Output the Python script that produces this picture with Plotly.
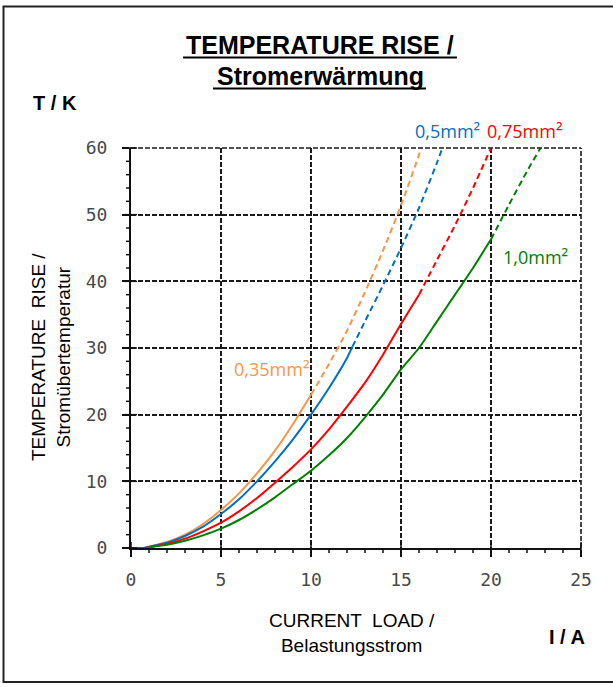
import plotly.graph_objects as go

# Temperature rise vs. current load for four conductor cross-sections.
# Each series: current (A) and temperature rise (K); points up to *_measured_to
# are measured (solid), the rest are extrapolated (dashed).
orange_i = [0, 0.7, 1, 2, 3, 4, 5, 6, 7, 8, 9, 10, 11, 12, 13, 14, 15, 16, 16.1]
orange_t = [0, 0, 0.2, 0.9, 2.0, 3.6, 5.7, 8.2, 11.2, 14.6, 18.6, 23.0, 27.6, 32.6, 38.4, 44.6, 51.4, 59.0, 60.0]
orange_measured_to = 10

blue_i = [0, 0.7, 1, 2, 3, 4, 5, 6, 7, 8, 9, 10, 11, 12, 12.3, 13, 14, 15, 16, 17, 17.3]
blue_t = [0, 0, 0.2, 0.8, 1.8, 3.2, 5.1, 7.3, 10.0, 13.0, 16.3, 20.0, 24.0, 28.5, 30.2, 34.0, 39.4, 45.0, 51.0, 57.8, 60.0]
blue_measured_to = 12.3

red_i = [0, 0.8, 1, 2, 3, 4, 5, 6, 7, 8, 9, 10, 11, 12, 13, 14, 15, 16, 17, 18, 19, 20]
red_t = [0, 0, 0.1, 0.6, 1.4, 2.5, 3.8, 5.5, 7.5, 9.8, 12.2, 14.8, 17.8, 21.2, 24.8, 29.0, 33.6, 38.0, 43.2, 48.4, 54.0, 60.0]
red_measured_to = 16

green_i = [0, 0.9, 1, 2, 3, 4, 5, 6, 7, 8, 9, 10, 11, 12, 13, 14, 15, 16, 17, 18, 19, 20, 21, 22, 22.75]
green_t = [0, 0, 0.1, 0.5, 1.1, 1.9, 2.9, 4.2, 5.8, 7.6, 9.6, 11.6, 13.9, 16.5, 19.6, 23.0, 26.8, 30.0, 34.0, 38.0, 42.0, 46.3, 51.5, 56.5, 60.0]
green_measured_to = 20

# name, current, temperature, end of measured part, colour, label position (px)
series = [
    ("0,35mm²", orange_i, orange_t, orange_measured_to, "#F79646", (271, 369)),
    ("0,5mm²", blue_i, blue_t, blue_measured_to, "#0070C0", (447, 131)),
    ("0,75mm²", red_i, red_t, red_measured_to, "#FF0000", (524, 131)),
    ("1,0mm²", green_i, green_t, green_measured_to, "#008000", (535, 257)),
]

x_ticks = [0, 5, 10, 15, 20, 25]
y_ticks = [0, 10, 20, 30, 40, 50, 60]
x_minor_step = 1
y_minor_step = 2

W, H = 613, 687
L, R, T, B = 131, 581, 148, 548
PW, PH = R - L, B - T


def px(x, y):
    """Pixel position on the page -> paper coordinates."""
    return (x - L) / PW, (B - y) / PH


def label_html(name):
    # draw the superscript-two a little larger than the plain glyph
    return name.replace("²", "<span style='font-size:19px'>²</span>")


fig = go.Figure()

for name, xi, yt, cut, color, (lx, ly) in series:
    solid = [(a, b) for a, b in zip(xi, yt) if a <= cut]
    dashed = [(a, b) for a, b in zip(xi, yt) if a >= cut]
    fig.add_trace(go.Scatter(
        x=[p[0] for p in solid], y=[p[1] for p in solid], mode="lines",
        line=dict(color=color, width=2, shape="spline", smoothing=0.6),
        showlegend=False, hoverinfo="skip"))
    fig.add_trace(go.Scatter(
        x=[p[0] for p in dashed], y=[p[1] for p in dashed], mode="lines",
        line=dict(color=color, width=2, dash="6px,4px", shape="spline", smoothing=0.6),
        showlegend=False, hoverinfo="skip"))
    xp, yp = px(lx, ly)
    fig.add_annotation(x=xp, y=yp, xref="paper", yref="paper", text=label_html(name),
                       showarrow=False, xanchor="center", yanchor="middle",
                       font=dict(family="Open Sans", size=18, color=color))

axis_style = dict(showgrid=True, gridcolor="#1a1a1a", gridwidth=1.6, griddash="5px,2px",
                  zeroline=False, showline=True, linecolor="#111", linewidth=2,
                  ticks="outside", ticklen=7, tickwidth=2, tickcolor="#111",
                  tickfont=dict(family="DejaVu Sans Mono", size=18, color="#4a4a4a"))

fig.update_layout(
    xaxis=dict(range=[x_ticks[0], x_ticks[-1]], tickmode="linear", tick0=x_ticks[0],
               dtick=x_ticks[1] - x_ticks[0], ticklabelstandoff=7, **axis_style),
    yaxis=dict(range=[y_ticks[0], y_ticks[-1]], tickmode="linear", tick0=y_ticks[0],
               dtick=y_ticks[1] - y_ticks[0], ticklabelstandoff=11, **axis_style),
)

anns = [
    ("TEMPERATURE RISE /", 320, 45, 25),
    ("Stromerwärmung", 320, 76, 25),
    ("T / K", 55, 103, 20),
    ("I / A", 567, 637, 20),
]
for text, x, y, size in anns:
    xp, yp = px(x, y)
    fig.add_annotation(x=xp, y=yp, xref="paper", yref="paper", text=f"<b>{text}</b>",
                       showarrow=False, font=dict(family="Liberation Sans", size=size, color="#000"),
                       xanchor="center", yanchor="middle")

xp, yp = px(352, 633)
fig.add_annotation(x=xp, y=yp, xref="paper", yref="paper",
                   text="CURRENT  LOAD /<br>Belastungsstrom", showarrow=False,
                   font=dict(family="Liberation Sans", size=19, color="#000"),
                   xanchor="center", yanchor="middle")
xp, yp = px(51, 357)
fig.add_annotation(x=xp, y=yp, xref="paper", yref="paper",
                   text="TEMPERATURE  RISE /<br>Stromübertemperatur", showarrow=False,
                   textangle=-90,
                   font=dict(family="Liberation Sans", size=19, color="#000"),
                   xanchor="center", yanchor="middle")

dash_line = dict(color="#1a1a1a", width=1.6, dash="5px,2px")
shapes = [
    # grid lines on the far edges of the plot area (paper refs are not clipped)
    dict(type="line", xref="paper", yref="paper", x0=0, x1=1, y0=1, y1=1,
         line=dash_line),
    dict(type="line", xref="paper", yref="paper", x0=1, x1=1, y0=0, y1=1,
         line=dash_line),
]

# ruler ticks along both axes: minor ticks outside, major ticks crossing the axis
tick_line = dict(color="#111", width=1.5)
x_span = x_ticks[-1] - x_ticks[0]
y_span = y_ticks[-1] - y_ticks[0]
v = x_ticks[0]
while v <= x_ticks[-1] + 1e-9:
    major = v in x_ticks
    xp = (v - x_ticks[0]) / x_span
    shapes.append(dict(type="line", xref="paper", yref="paper", x0=xp, x1=xp,
                       y0=(6 / PH) if major else 0, y1=-(7 if major else 5) / PH,
                       line=tick_line))
    v += x_minor_step
v = y_ticks[0]
while v <= y_ticks[-1] + 1e-9:
    major = v in y_ticks
    yp = (v - y_ticks[0]) / y_span
    shapes.append(dict(type="line", xref="paper", yref="paper", y0=yp, y1=yp,
                       x0=(6 / PW) if major else 0, x1=-(7 if major else 5) / PW,
                       line=tick_line))
    v += y_minor_step

# title underlines
for x0, x1, y in [(183, 457, 57.5), (213, 426, 88.5)]:
    a = px(x0, y)
    b = px(x1, y)
    shapes.append(dict(type="line", xref="paper", yref="paper", x0=a[0], y0=a[1],
                       x1=b[0], y1=b[1], line=dict(color="#000", width=2.2)))
# outer frame
a = px(3.5, 6.5)
b = px(622, 682)
shapes.append(dict(type="rect", xref="paper", yref="paper", x0=a[0], y0=a[1],
                   x1=b[0], y1=b[1], line=dict(color="#222", width=2)))

fig.update_layout(
    shapes=shapes,
    width=W, height=H, autosize=False,
    margin=dict(l=L, r=W - R, t=T, b=H - B, pad=0),
    paper_bgcolor="white", plot_bgcolor="white",
)

fig.write_html("out.html")
